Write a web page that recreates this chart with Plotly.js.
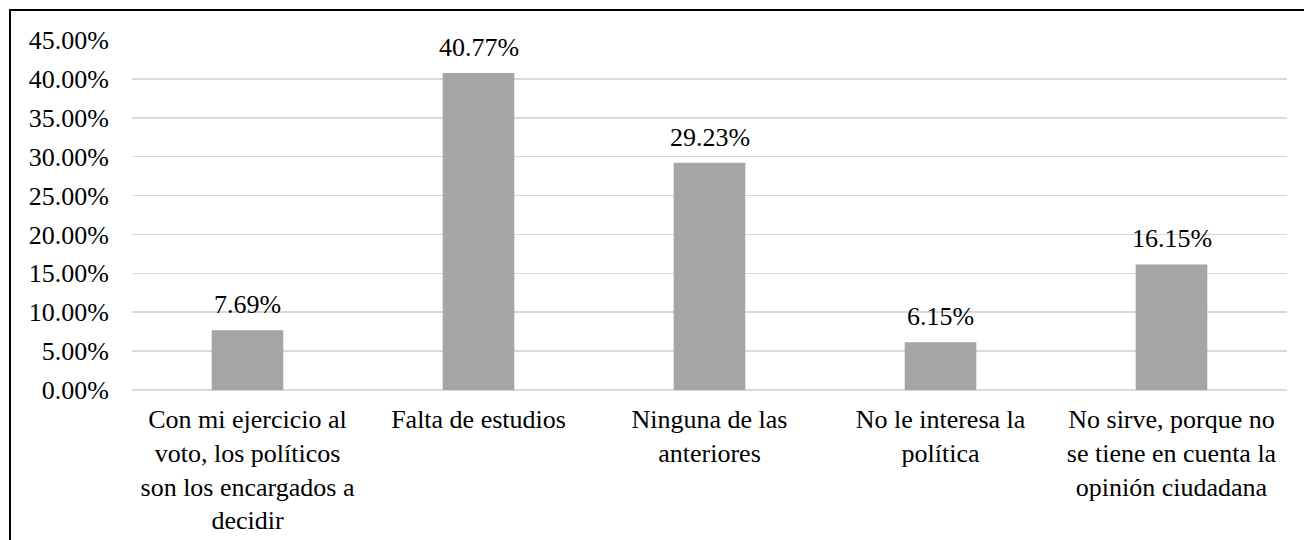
<!DOCTYPE html>
<html>
<head>
<meta charset="utf-8">
<script src="https://cdn.plot.ly/plotly-3.0.1.min.js"></script>
<style>
  html, body { margin: 0; padding: 0; background: #fff; }
  #wrap { position: relative; width: 1304px; height: 540px; overflow: hidden; }
  #frame { position: absolute; left: 9px; top: 9px; width: 1400px; height: 700px; border: 2px solid #000; box-sizing: border-box; pointer-events: none; }
  #chart { position: absolute; left: 0; top: 0; width: 1304px; height: 540px; }
</style>
</head>
<body>
<div id="wrap">
  <div id="chart"></div>
  <div id="frame"></div>
</div>
<script>
const categories = [
  "Con mi ejercicio al<br>voto, los políticos<br>son los encargados a<br>decidir",
  "Falta de estudios",
  "Ninguna de las<br>anteriores",
  "No le interesa la<br>política",
  "No sirve, porque no<br>se tiene en cuenta la<br>opinión ciudadana"
];
const values = [0.0769, 0.4077, 0.2923, 0.0615, 0.1615];

const FONT = "Liberation Serif";

const trace = {
  type: "bar",
  x: categories,
  y: values,
  marker: { color: "#A5A5A5" },
  hoverinfo: "skip"
};

const annotations = categories.map((c, i) => ({
  x: c,
  y: values[i],
  xref: "x",
  yref: "y",
  text: (values[i] * 100).toFixed(2) + "%",
  showarrow: false,
  yanchor: "bottom",
  yshift: 9,
  font: { family: FONT, size: 26, color: "#000" }
}));

const layout = {
  width: 1304,
  height: 540,
  margin: { l: 132, r: 17, t: 40, b: 150 },
  paper_bgcolor: "#fff",
  plot_bgcolor: "#fff",
  showlegend: false,
  bargap: 0.69,
  font: { family: FONT, size: 26, color: "#000" },
  annotations: annotations,
  xaxis: {
    type: "category",
    showgrid: false,
    showline: false,
    zeroline: false,
    ticks: "",
    tickangle: 0,
    ticklabelstandoff: 11,
    tickfont: { family: FONT, size: 26, color: "#000" }
  },
  yaxis: {
    range: [0, 0.45],
    dtick: 0.05,
    tick0: 0,
    tickformat: ".2%",
    showgrid: true,
    gridcolor: "#D9D9D9",
    gridwidth: 1.5,
    zeroline: true,
    zerolinecolor: "#D9D9D9",
    zerolinewidth: 1.5,
    showline: false,
    ticks: "",
    ticklabelstandoff: 22,
    tickfont: { family: FONT, size: 26, color: "#000" }
  }
};

Plotly.newPlot("chart", [trace], layout, { staticPlot: true, displayModeBar: false });
</script>
</body>
</html>
